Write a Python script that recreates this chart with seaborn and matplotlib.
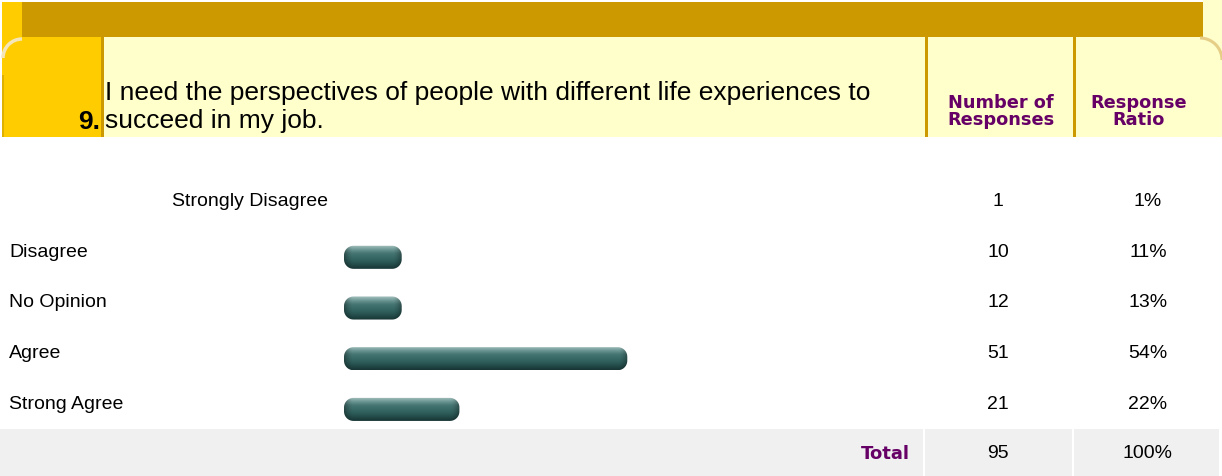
import numpy as np
import matplotlib
matplotlib.use('Agg')
import matplotlib.pyplot as plt
from matplotlib.patches import Rectangle, Polygon, Arc
from matplotlib.colors import LinearSegmentedColormap
import seaborn as sns

# survey data
question = ["I need the perspectives of people with different life experiences to",
            "succeed in my job."]
categories = ['Strongly Disagree', 'Disagree', 'No Opinion', 'Agree', 'Strong Agree']
responses = [1, 10, 12, 51, 21]
ratios = ['1%', '11%', '13%', '54%', '22%']
bar_length = [0, 11, 11, 54, 22]  # bar lengths as drawn (percent units)
total_responses = 95
total_ratio = '100%'

sns.set_theme(style='white')
plt.rcParams['font.family'] = ['Liberation Sans', 'DejaVu Sans']
plt.rcParams['text.color'] = 'black'

W, H = 1222, 476
fig = plt.figure(figsize=(W / 100, H / 100), dpi=100)
ax = fig.add_axes([0, 0, 1, 1])
ax.set_xlim(0, W)
ax.set_ylim(H, 0)
ax.axis('off')

GOLD = '#CC9900'
YELLOW = '#FFCC00'
PALE = '#FFFFCC'
PURPLE = '#660066'

# header
ax.add_patch(Rectangle((1203, 0), 19, 137, color=PALE, lw=0))
ax.add_patch(Rectangle((2, 2), 1201, 35, color=GOLD, lw=0))
ax.add_patch(Rectangle((2, 2), 20, 35, color=YELLOW, lw=0))
ax.add_patch(Rectangle((2, 37), 1201, 100, color=PALE, lw=0))
ax.add_patch(Rectangle((2, 37), 99, 100, color=YELLOW, lw=0))
for x0 in [101, 925, 1073]:
    ax.add_patch(Rectangle((x0, 37), 3, 100, color=GOLD, lw=0))
ax.add_patch(Rectangle((2, 75), 2, 62, color='#E0B000', lw=0))
# corner ornaments (y axis is inverted)
ax.add_patch(Arc((1200, 60), 44, 44, theta1=270, theta2=360, color='#E6CE86', lw=2.2))
ax.add_patch(Arc((22, 58), 38, 38, theta1=180, theta2=270, color='#F4E6B8', lw=2.5))

ax.text(100, 129, '9.', fontsize=19, fontweight='bold', ha='right', va='baseline')
ax.text(105, 100, question[0], fontsize=19, ha='left', va='baseline')
ax.text(105, 128, question[1], fontsize=19, ha='left', va='baseline')

hdr = dict(fontsize=12.8, fontweight='bold', color=PURPLE, ha='center', va='baseline',
           family='DejaVu Sans')
ax.text(1001, 108, 'Number of', **hdr)
ax.text(1001, 125, 'Responses', **hdr)
ax.text(1139, 108, 'Response', **hdr)
ax.text(1139, 125, 'Ratio', **hdr)

# rows
row_y = [201.5, 252.5, 302.5, 353.5, 404.5]
for i, (cat, n, r) in enumerate(zip(categories, responses, ratios)):
    lx = 172 if i == 0 else 9
    ax.text(lx, row_y[i], cat, fontsize=14, ha='left', va='center')
    ax.text(998, row_y[i], str(n), fontsize=14, ha='center', va='center')
    ax.text(1148, row_y[i], r, fontsize=14, ha='center', va='center')

# total row
ax.add_patch(Rectangle((0, 429), 1219, 47, color='#F0F0F0', lw=0))
for x0 in [923, 1072]:
    ax.add_patch(Rectangle((x0, 429), 2, 47, color='white', lw=0))
ax.text(910, 454, 'Total', fontsize=13, fontweight='bold', color=PURPLE,
        ha='right', va='center', family='DejaVu Sans')
ax.text(998, 453.5, str(total_responses), fontsize=14, ha='center', va='center')
ax.text(1148, 453.5, total_ratio, fontsize=14, ha='center', va='center')

# bars
px_per_unit = 5.246
row_px = 50.7
top0 = 206.6 - row_px / 2
bw_px = 560
bx = fig.add_axes([344 / W, 1 - (top0 + 5 * row_px) / H, bw_px / W, 5 * row_px / H])
sns.barplot(x=bar_length, y=categories, orient='h', ax=bx, width=0.455,
            color='#3b6b68', saturation=1)
bx.set_xlim(0, bw_px / px_per_unit)
bx.set_ylim(4.5, -0.5)
bx.axis('off')
bx.patch.set_alpha(0)

cmap = LinearSegmentedColormap.from_list(
    'bar', ['#a3bfbc', '#6c9794', '#467673', '#3a6a67', '#2e5e5b', '#234b49', '#183736'])


def rounded_rect(x0, y0, x1, y1, r, n=12):
    pts = []
    corners = [(x1 - r, y0 + r, -90, 0), (x1 - r, y1 - r, 0, 90),
               (x0 + r, y1 - r, 90, 180), (x0 + r, y0 + r, 180, 270)]
    for cx, cy, a0, a1 in corners:
        t = np.radians(np.linspace(a0, a1, n))
        pts += list(zip(cx + r * np.cos(t), cy + r * np.sin(t)))
    return np.array(pts)


to_px = ax.transData.inverted()
for p in list(bx.patches):
    x0, y0, w, h = p.get_x(), p.get_y(), p.get_width(), p.get_height()
    p.set_visible(False)
    if w <= 0:
        continue
    (px0, py0), (px1, py1) = to_px.transform(
        bx.transData.transform([(x0, y0), (x0 + w, y0 + h)]))
    px0, px1 = min(px0, px1), max(px0, px1)
    py0, py1 = min(py0, py1), max(py0, py1)
    nw, nh = int(round(px1 - px0)), int(round(py1 - py0))
    vert = cmap(np.linspace(0, 1, nh))[:, :3]
    xs = np.arange(nw) + 0.5
    edge = np.minimum(xs, nw - xs)
    shade = 1 - 0.35 * np.clip(1 - edge / 9.0, 0, 1) ** 1.5
    img = vert[:, None, :] * shade[None, :, None]
    clip = Polygon(rounded_rect(px0, py0, px1, py1, 9.5), closed=True,
                   fc='none', ec='none', transform=ax.transData)
    ax.add_patch(clip)
    im = ax.imshow(img, extent=(px0, px1, py1, py0), aspect='auto',
                   origin='upper', interpolation='bilinear', zorder=2)
    im.set_clip_path(clip)

ax.set_xlim(0, W)
ax.set_ylim(H, 0)

fig.savefig('out.png', dpi=100)
